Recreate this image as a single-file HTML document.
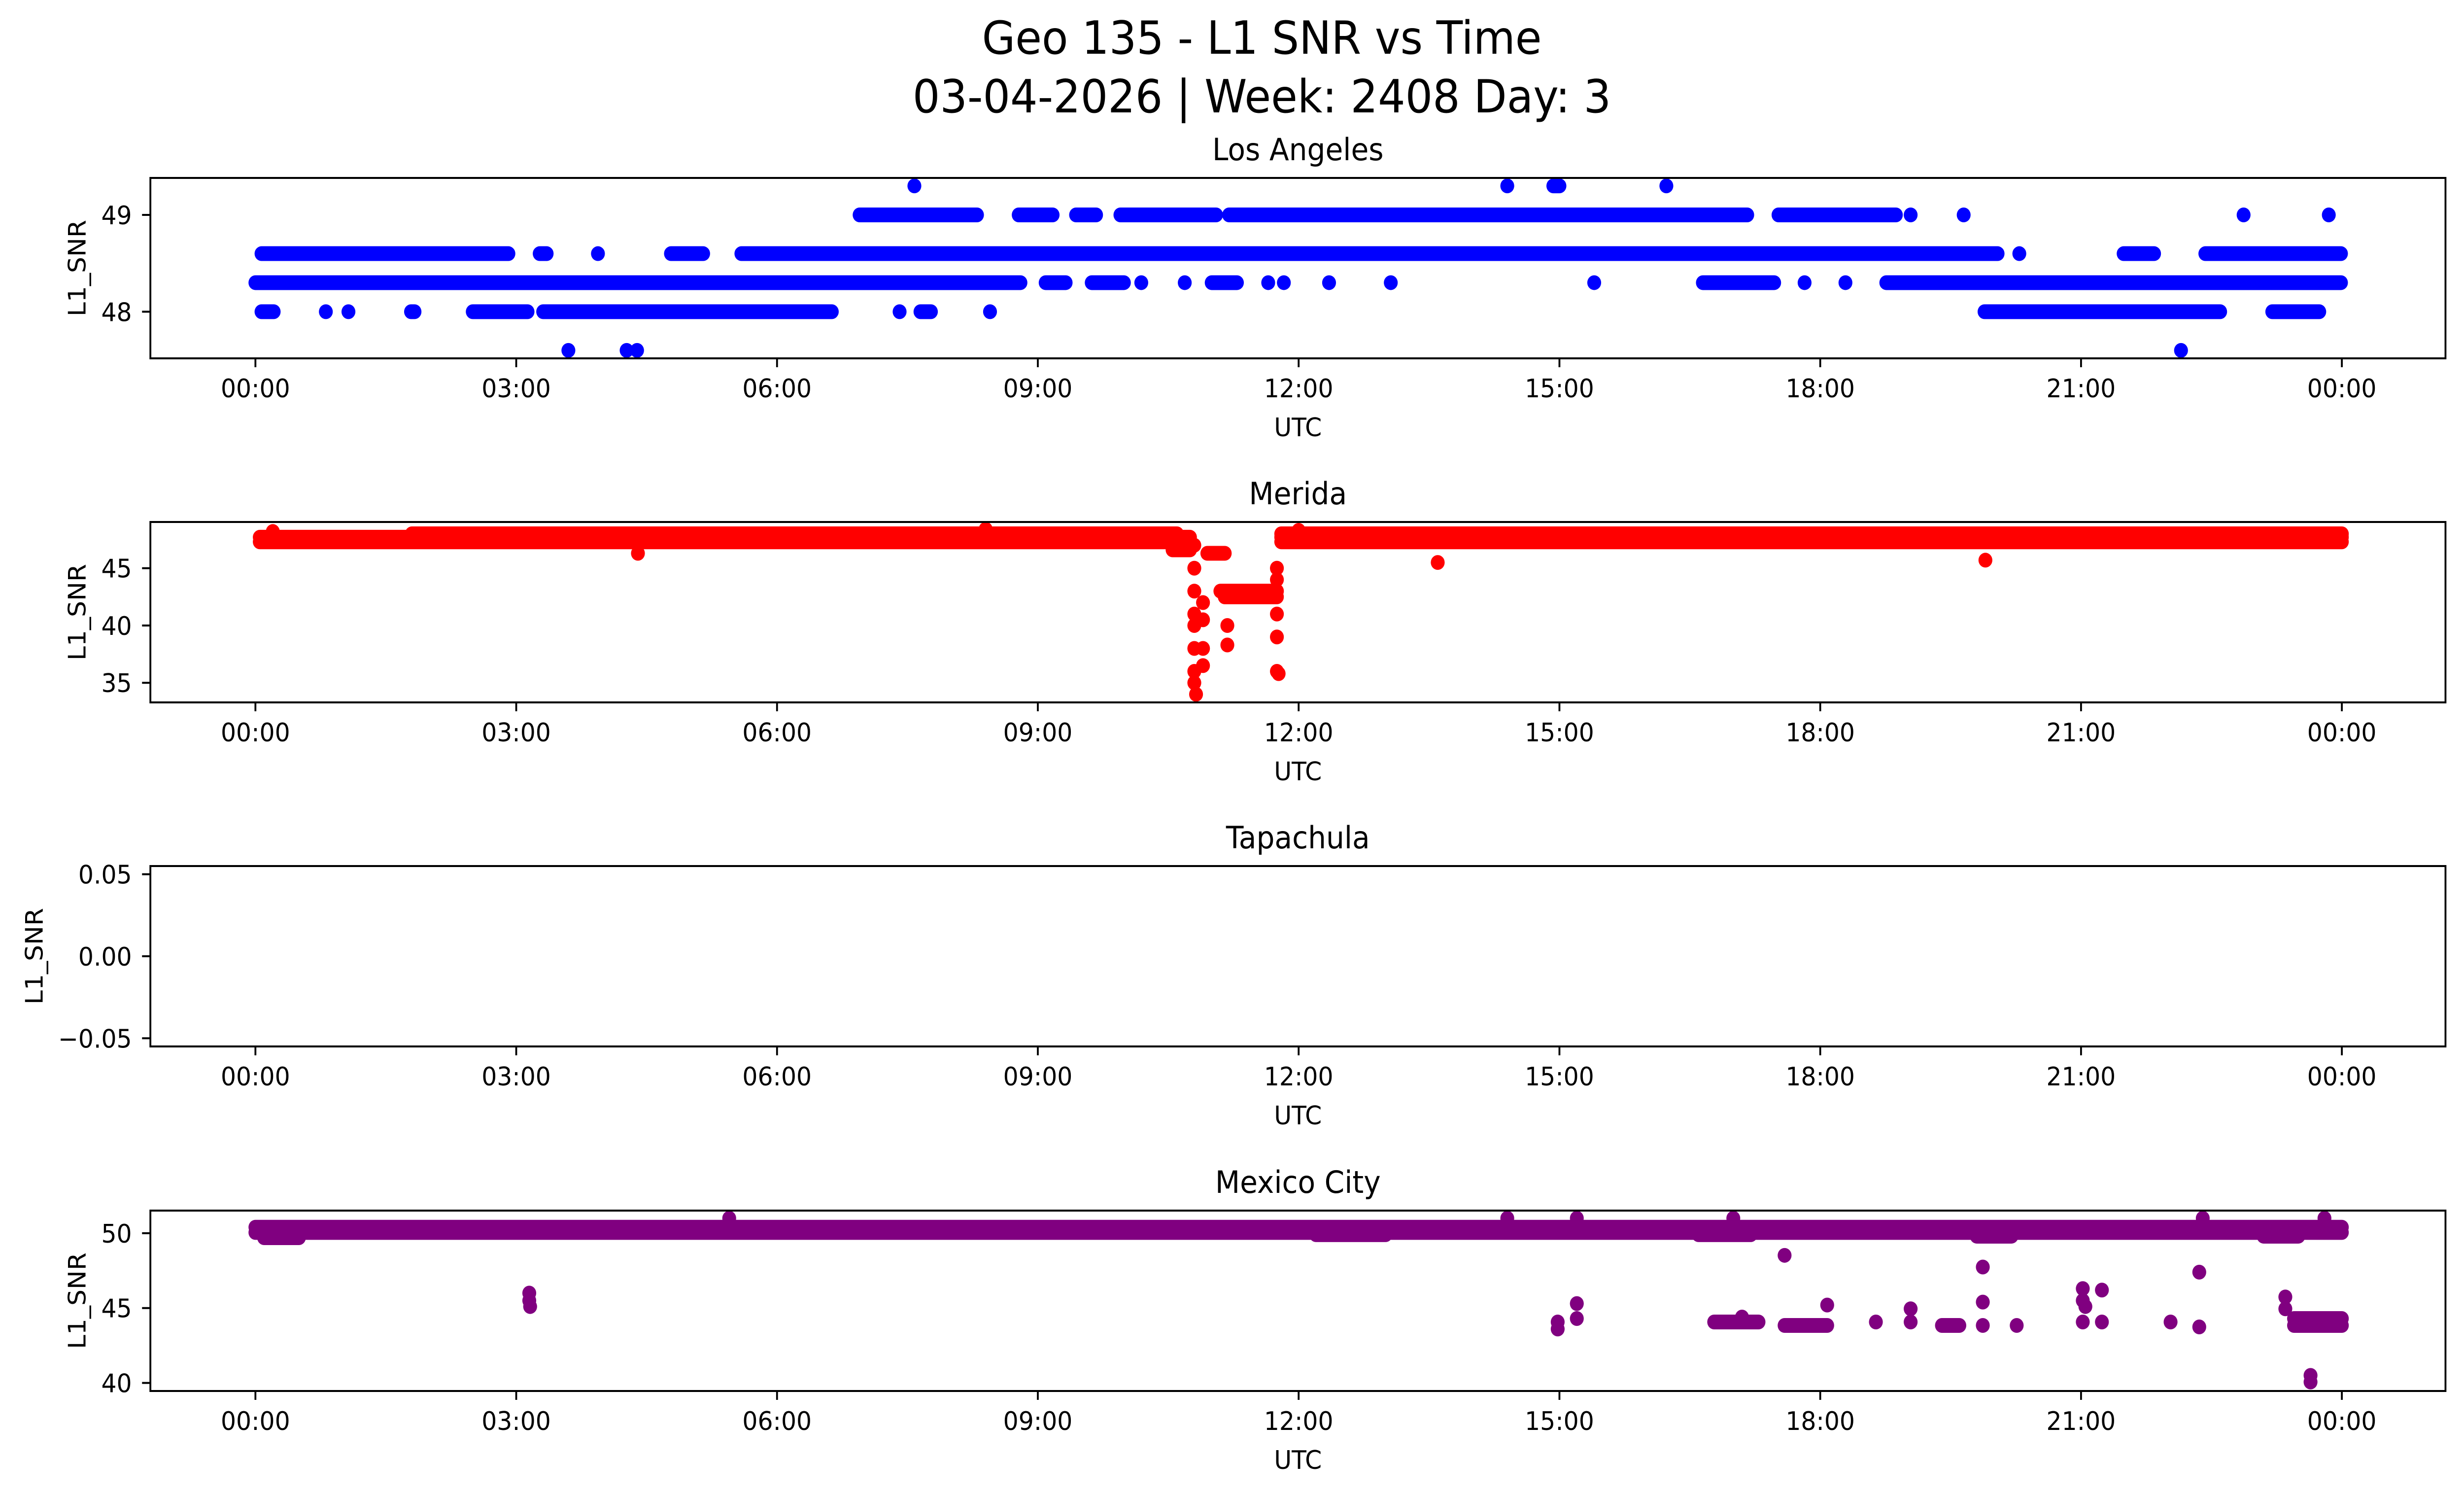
<!DOCTYPE html>
<html><head><meta charset="utf-8"><style>
html,body{margin:0;padding:0;background:#fff;overflow:hidden;width:100%;height:100%;}
svg{display:block;width:100vw;height:100vh;font-family:"DejaVu Sans","Liberation Sans",sans-serif;}
</style></head><body>
<svg id="fig" viewBox="0 0 5325 3033" preserveAspectRatio="none" xmlns="http://www.w3.org/2000/svg">
<rect width="5325" height="3033" fill="#fff"/>
<text x="2727" y="109" font-size="93" text-anchor="middle">Geo 135 - L1 SNR vs Time</text>
<text x="2727" y="228" font-size="93" text-anchor="middle">03-04-2026 | Week: 2408 Day: 3</text>
<g id="plots"></g>
</svg>
<script>
// ---- data (hours UTC, SNR) ----
const xTickLabels = ["00:00","03:00","06:00","09:00","12:00","15:00","18:00","21:00","00:00"];
const xTickHours = [0,3,6,9,12,15,18,21,24];
const panelTitles = ["Los Angeles","Merida","Tapachula","Mexico City"];
const yTicks1 = [48,49];
const yTicks2 = [35,40,45];
const yTicks3 = [-0.05,0,0.05];
const yTickLabels3 = ["\u22120.05","0.00","0.05"];
const yTicks4 = [40,45,50];
const yDomain1 = [47.518,49.382];
const yDomain2 = [33.29,49.03];
const yDomain3 = [-0.055,0.055];
const yDomain4 = [39.46,51.51];

// Los Angeles: dense runs [startHour, endHour, snr]
const laRuns = [
 [0.0,8.80,48.3],[9.09,9.32,48.3],[9.62,9.99,48.3],[11.0,11.29,48.3],[16.65,17.47,48.3],[18.76,23.99,48.3],
 [0.07,2.91,48.6],[3.27,3.35,48.6],[4.78,5.15,48.6],[5.59,20.04,48.6],[21.49,21.84,48.6],[22.43,23.99,48.6],
 [6.95,8.30,49.0],[8.78,9.17,49.0],[9.44,9.67,49.0],[9.95,11.05,49.0],[11.2,17.16,49.0],[17.52,18.87,49.0],
 [0.07,0.21,48.0],[1.79,1.83,48.0],[2.50,3.13,48.0],[3.31,6.63,48.0],[7.65,7.77,48.0],[19.89,22.60,48.0],[23.2,23.74,48.0],
 [14.93,15.0,49.3]
];
const laPointsT = [10.19,10.69,11.65,11.83,12.35,13.06,15.40,17.82,18.29,20.29,3.94,19.04,19.65,22.87,23.85,0.81,1.07,7.41,8.45,3.6,4.27,4.39,22.15,7.58,14.40,16.23];
const laPointsV = [48.3,48.3,48.3,48.3,48.3,48.3,48.3,48.3,48.3,48.6,48.6,49.0,49.0,49.0,49.0,48.0,48.0,48.0,48.0,47.6,47.6,47.6,47.6,49.3,49.3,49.3];

// Merida
const meRuns = [
 [0.05,10.75,47.3],[0.05,10.75,47.7],[1.8,10.6,48.0],[11.8,24.0,47.3],[11.8,24.0,47.7],[11.8,24.0,48.0],
 [10.95,11.15,46.3],[11.1,11.75,43.0],[11.15,11.75,42.5],[10.55,10.75,46.6]
];
const mePointsT = [10.80,10.80,10.80,10.80,10.80,10.80,10.80,10.80,10.82,10.90,10.90,10.90,10.90,11.18,11.18,11.75,11.75,11.75,11.75,11.75,11.75,11.77,13.6,4.4,19.9,0.2,8.4,12.0];
const mePointsV = [47,45,43,41,40,38,36,35,34,42,40.5,38,36.5,40,38.3,45,44,43,41,39,36,35.8,45.5,46.3,45.7,48.2,48.4,48.3];

// Mexico City
const mxRuns = [
 [0.0,24.0,50.05],[0.0,24.0,50.4],[0.1,0.5,49.7],[12.2,13.0,49.9],[16.6,17.2,49.9],[19.8,20.2,49.8],[23.1,23.5,49.8],
 [23.45,24.0,44.3],[23.45,24.0,43.84],[17.59,18.08,43.84],[19.4,19.6,43.84],[16.78,17.29,44.07]
];
const mxPointsT = [3.15,3.15,3.16,14.98,14.98,15.2,15.2,17.1,17.59,18.08,18.64,19.04,19.04,19.87,19.87,19.87,20.26,21.02,21.02,21.05,21.02,21.24,21.24,22.03,22.36,22.36,23.35,23.35,23.64,23.64,5.45,14.4,15.2,17.0,22.4,23.8];
const mxPointsV = [46.0,45.5,45.1,44.07,43.6,45.3,44.3,44.4,48.52,45.2,44.07,44.95,44.07,47.74,45.4,43.84,43.84,46.3,45.5,45.1,44.07,46.2,44.07,44.07,47.4,43.74,45.74,44.95,40.5,40.06,51.0,51.0,51.0,51.0,51.0,51.0];

// ---- layout ----
const X0=325, X1=5285, PH=366;
const tops=[361,1059,1757,2456];
function xScale(h){return 552 + h*(5061-552)/24;}
function makeY(dom,top){return v=> top+PH - (v-dom[0])/(dom[1]-dom[0])*PH;}
const NS="http://www.w3.org/2000/svg";
const root=document.getElementById('plots');
function el(tag,attrs,parent){const e=document.createElementNS(NS,tag);for(const k in attrs)e.setAttribute(k,attrs[k]);(parent||root).appendChild(e);return e;}

const panels=[
 {dom:yDomain1,ticks:yTicks1,labels:yTicks1.map(String),runs:laRuns,pt:laPointsT,pv:laPointsV,color:"#0000ff",ylx:185},
 {dom:yDomain2,ticks:yTicks2,labels:yTicks2.map(String),runs:meRuns,pt:mePointsT,pv:mePointsV,color:"#ff0000",ylx:185},
 {dom:yDomain3,ticks:yTicks3,labels:yTickLabels3,runs:[],pt:[],pv:[],color:"#000",ylx:92},
 {dom:yDomain4,ticks:yTicks4,labels:yTicks4.map(String),runs:mxRuns,pt:mxPointsT,pv:mxPointsV,color:"#800080",ylx:185}
];

panels.forEach((p,i)=>{
 const top=tops[i], bot=top+PH, y=makeY(p.dom,top);
 const g=el('g',{});
 
 
 const clipId='clip'+i;
 const cp=el('clipPath',{id:clipId},g);
 el('rect',{x:X0,y:top,width:X1-X0,height:PH},cp);
 const marks=el('g',{'clip-path':'url(#'+clipId+')'},g);
 
 
 p.runs.forEach(r=>{
  const ln=el('line',{x1:xScale(r[0]),x2:xScale(r[1]),y1:y(r[2]),y2:y(r[2]),stroke:p.color,'stroke-width':30,'stroke-linecap':'round'},marks);
  
  
 });
 p.pt.forEach((t,k)=>{
  const c=el('circle',{cx:xScale(t),cy:y(p.pv[k]),r:15,fill:p.color},marks);
  
  
 });
 const frame=el('rect',{x:X0,y:top,width:X1-X0,height:PH,fill:'none',stroke:'#000','stroke-width':4},g);
 
 
 xTickHours.forEach((h,k)=>{
  const x=xScale(h);
  el('line',{x1:x,x2:x,y1:bot,y2:bot+18,stroke:'#000','stroke-width':4},g);
  const t=el('text',{x:x,y:bot+79,'font-size':52,'text-anchor':'middle'},g);
  t.textContent=xTickLabels[k];
  
  
 });
 p.ticks.forEach((v,k)=>{
  const yy=y(v);
  el('line',{x1:X0-18,x2:X0,y1:yy,y2:yy,stroke:'#000','stroke-width':4},g);
  const t=el('text',{x:285,y:yy+19,'font-size':52,'text-anchor':'end'},g);
  t.textContent=p.labels[k];
  
  
 });
 const xl=el('text',{x:(X0+X1)/2,y:bot+158,'font-size':52,'text-anchor':'middle'},g);
 xl.textContent='UTC';
 
 
 const yc=top+PH/2;
 const yl=el('text',{x:p.ylx,y:yc,'font-size':52,'text-anchor':'middle',transform:'rotate(-90 '+p.ylx+' '+yc+')'},g);
 yl.textContent='L1_SNR';
 
 
 const tt=el('text',{x:(X0+X1)/2,y:top-36,'font-size':62,'text-anchor':'middle'},g);
 tt.textContent=panelTitles[i];
 
 
});
</script>
</body></html>
